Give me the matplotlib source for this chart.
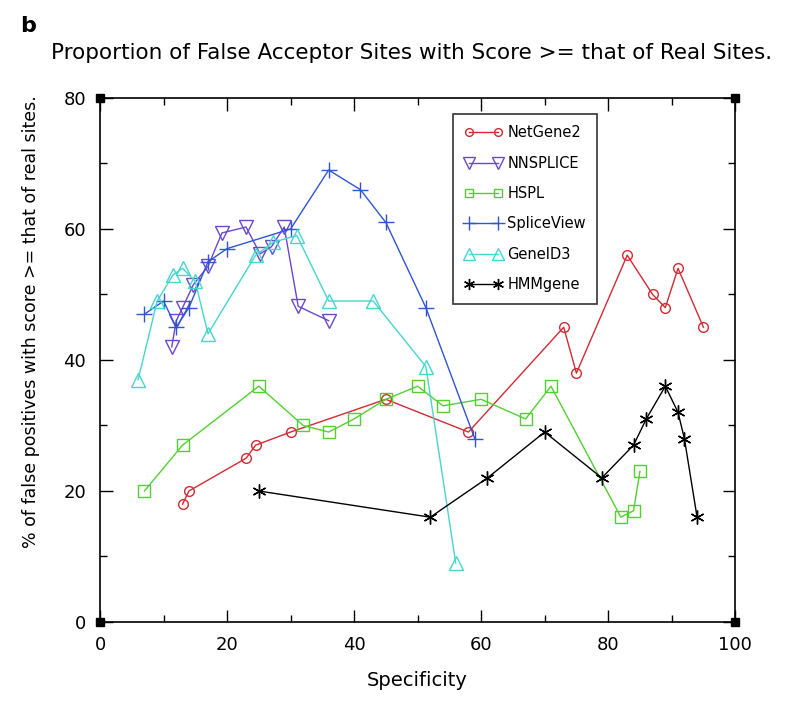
import numpy as np
import matplotlib
matplotlib.use('Agg')
import matplotlib.pyplot as plt

#data (specificity, % false positives)
netgene2_x = [13, 14, 23, 24.5, 30, 45, 58, 73, 75, 83, 87, 89, 91, 95]
netgene2_y = [18, 20, 25, 27, 29, 34, 29, 45, 38, 56, 50, 48, 54, 45]

nnsplice_x = [11.3, 12, 13, 14.7, 17, 19.2, 23, 25.2, 27, 29, 31.2, 36]
nnsplice_y = [42, 46, 48, 51.5, 54.3, 59.4, 60.3, 56.2, 57.3, 60.3, 48.2, 46]

hspl_x = [7, 13, 25, 32, 36, 40, 45, 50, 54, 60, 67, 71, 82, 84, 85]
hspl_y = [20, 27, 36, 30, 29, 31, 34, 36, 33, 34, 31, 36, 16, 17, 23]

spliceview_x = [7, 10, 12, 14, 17, 20, 30, 36, 41, 45, 51.3, 59]
spliceview_y = [47, 49, 45, 48, 55, 57, 60, 69, 66, 61, 48, 28]

geneid3_x = [6, 9, 11.5, 13, 15, 17, 24.5, 27.3, 31, 36, 43, 51.3, 56]
geneid3_y = [37, 49, 53, 54, 52, 44, 56, 58, 59, 49, 49, 39, 9]

hmmgene_x = [25, 52, 61, 70, 79, 84, 86, 89, 91, 92, 94]
hmmgene_y = [20, 16, 22, 29, 22, 27, 31, 36, 32, 28, 16]

series = [
    ('NetGene2', netgene2_x, netgene2_y, '#d42a32', 'o', 7),
    ('NNSPLICE', nnsplice_x, nnsplice_y, '#6a48d0', 'v', 10),
    ('HSPL', hspl_x, hspl_y, '#52d030', 's', 8),
    ('SpliceView', spliceview_x, spliceview_y, '#2f55d4', '+', 12),
    ('GeneID3', geneid3_x, geneid3_y, '#45d6cc', '^', 10),
    ('HMMgene', hmmgene_x, hmmgene_y, 'black', (6, 2, 0), 10),
]

fig = plt.figure(figsize=(8, 7.01), dpi=100)
ax = fig.add_axes([0.125, 0.1127, 0.794, 0.7475])

for name, x, y, c, m, ms in series:
    ax.plot(x, y, color=c, lw=1, marker=m, ms=ms, mfc='none', mec=c,
            mew=1, label=name)

ax.set_xlim(0, 100); ax.set_ylim(0, 80)
ax.set_xticks(np.arange(0, 101, 20)); ax.set_yticks(np.arange(0, 81, 20))
ax.set_xticks(np.arange(0, 101, 10), minor=True)
ax.set_yticks(np.arange(0, 81, 10), minor=True)
ax.tick_params(which='both', direction='in', top=True, right=True,
               labelsize=13, colors='black', pad=10)
ax.tick_params(which='major', length=9, width=1)
ax.tick_params(which='minor', length=5, width=1)
for s in ax.spines.values():
    s.set_linewidth(1.2)

#black squares in the corners
xl = ax.get_xlim(); yl = ax.get_ylim()
ax.plot([xl[0], xl[0], xl[1], xl[1]], [yl[0], yl[1], yl[0], yl[1]],
        ls='none', marker='s', ms=6, color='black', clip_on=False, zorder=5)

ax.set_xlabel('Specificity', fontsize=14, labelpad=12)
ax.set_ylabel('% of false positives with score >= that of real sites.',
              fontsize=12.5)
ax.yaxis.set_label_coords(-0.094, 0.574)

leg = ax.legend(loc='upper left', bbox_to_anchor=(0.556, 0.97), numpoints=2,
                fontsize=10.5, frameon=True, fancybox=False, edgecolor='black',
                handlelength=2.6, handletextpad=0.3, labelspacing=1.05,
                borderpad=0.8, borderaxespad=0, markerscale=0.8)
leg.get_frame().set_linewidth(1.2)

fig.text(0.025, 0.955, 'b', fontsize=16, fontweight='bold')
fig.text(0.514, 0.925, 'Proportion of False Acceptor Sites with Score >= that of Real Sites.',
         fontsize=15.5, ha='center', va='center')

plt.savefig('out.png', dpi=100)
